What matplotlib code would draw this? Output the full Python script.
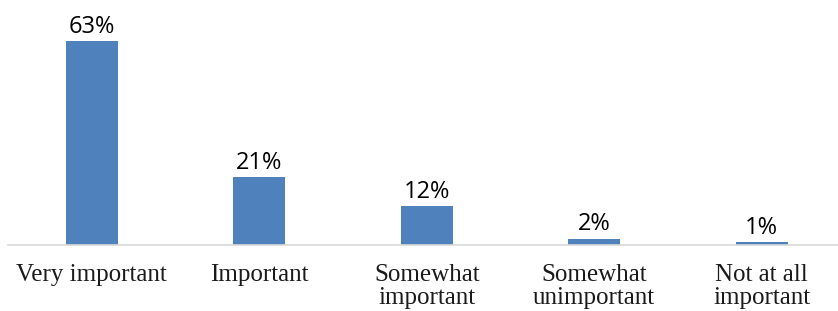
import matplotlib.pyplot as plt

categories = ["Very important", "Important", "Somewhat\nimportant",
              "Somewhat\nunimportant", "Not at all\nimportant"]
values = [63, 21, 12, 2, 1]
labels = ["63%", "21%", "12%", "2%", "1%"]

fig = plt.figure(figsize=(8.38, 3.11), dpi=100)
ax = fig.add_axes([8 / 838, 66 / 311, 837.5 / 838, 245 / 311])

x = range(len(values))
ax.bar(x, values, width=0.31, color="#4F81BD")
ax.set_xlim(-0.5, 4.5)
ax.set_ylim(0, 75.6)

for i, (v, t) in enumerate(zip(values, labels)):
    ax.annotate(t, (i, v), xytext=(0, 1.5), textcoords="offset points",
                ha="center", va="bottom", fontsize=17, family="Open Sans",
                color="#000000")

for s in ["top", "right", "left"]:
    ax.spines[s].set_visible(False)
ax.spines["bottom"].set_color("#D9D9D9")
ax.spines["bottom"].set_linewidth(1.2)
ax.set_yticks([])
ax.set_xticks(list(x))
ax.set_xticklabels(categories, family="Liberation Serif", fontsize=18,
                   color="#1a1a1a", linespacing=1.03)
ax.tick_params(axis="x", length=0, pad=14)

fig.savefig("out.png", dpi=100)
